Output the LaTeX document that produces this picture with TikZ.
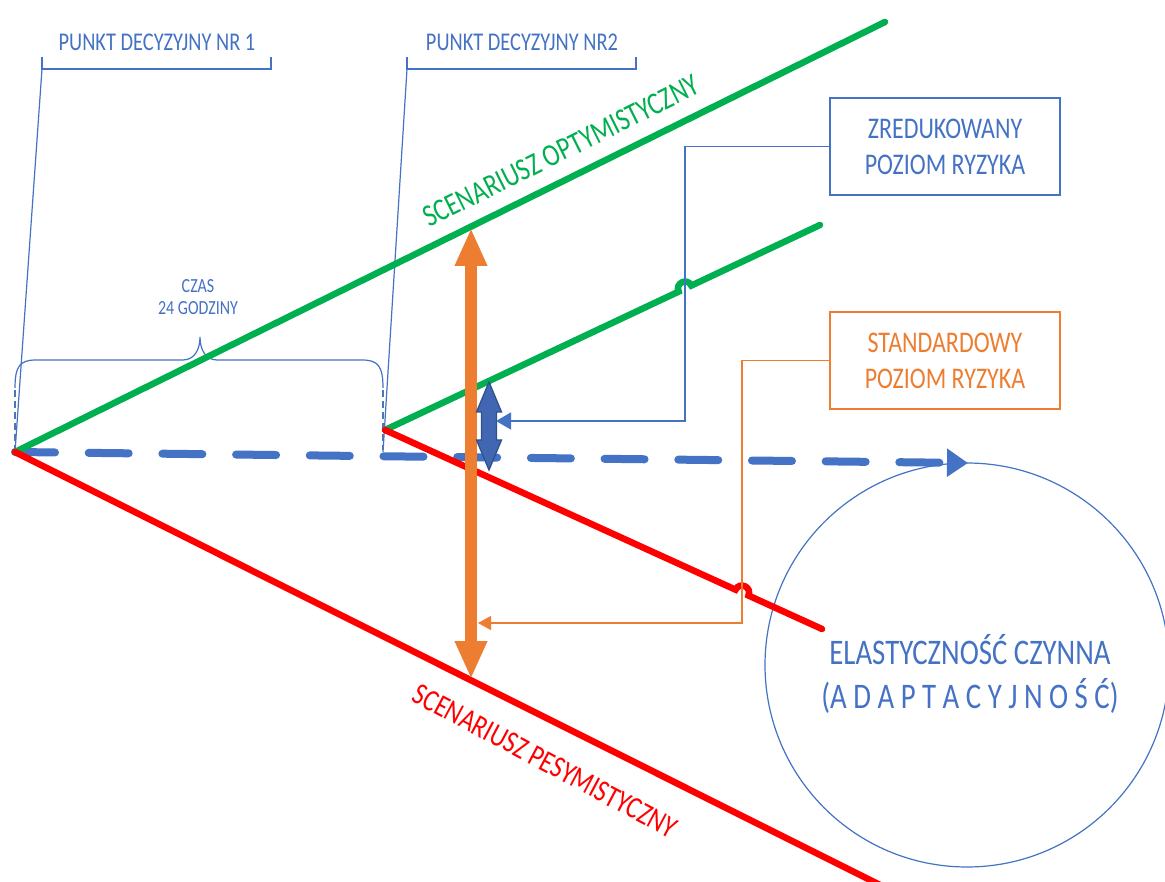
\documentclass[tikz,border=0pt]{standalone}
\usepackage{fontspec}
\setmainfont{Carlito}[FakeStretch=0.8]
\usetikzlibrary{arrows.meta}
\definecolor{gblue}{HTML}{4472C4}
\definecolor{gorange}{HTML}{ED7D31}
\definecolor{ggreen}{HTML}{00B050}
\definecolor{gred}{HTML}{FF0000}
\definecolor{blockblue}{HTML}{4267B2}
\definecolor{blockedge}{HTML}{2F528F}
\begin{document}
\begin{tikzpicture}[x=1pt,y=-1pt,
  thinblue/.style={draw=gblue, line width=1.2pt},
  scenline/.style={line width=6.5pt, line cap=round},
  txt/.style={inner sep=0pt, align=center},
  riskbox/.style={draw, line width=1.3pt, minimum width=230pt, minimum height=97pt,
    align=center, inner sep=0pt, font=\fontsize{30}{36}\selectfont},
  link/.style={line width=1.3pt}]
\fill[white] (0,0) rectangle (1165,882);
\clip (0,0) rectangle (1165,882);

% key points of the scenario fan
\coordinate (o1) at (15,452);
\coordinate (o2) at (385,430);
\coordinate (g1) at (885,22);
\coordinate (r1) at (890,890);
\coordinate (g2) at (820,225);
\coordinate (r2) at (822,629);
\coordinate (dtip) at (968,463);

% decision point brackets
\draw[thinblue] (42,57) -- (42,69) coordinate (b1) -- (271,69) -- (271,57);
\draw[thinblue] (407,57) -- (407,69) coordinate (b2) -- (636,69) -- (636,57);
\draw[thinblue] (b1) -- (o1);
\draw[thinblue] (b2) -- (383,452);
\node[txt, text=gblue, font=\fontsize{25.5}{30}\selectfont] (pd1) at (157,42) {PUNKT DECYZYJNY NR 1};
\node[txt, text=gblue, font=\fontsize{25.5}{30}\selectfont] (pd2) at (522,42) {PUNKT DECYZYJNY NR2};

% time brace
\draw[thinblue] (15,388) .. controls (15,366) and (20,360) .. (36,360) -- (183,360)
  .. controls (194,360) and (200,350) .. (200,337)
  .. controls (200,350) and (206,360) .. (217,360) -- (362,360)
  .. controls (378,360) and (383,366) .. (383,388);
\draw[gblue!80!gray, line width=1.3pt, dash pattern=on 7pt off 4pt] (15,390) -- (15,450);
\draw[gblue!80!gray, line width=1.3pt, dash pattern=on 7pt off 4pt] (383,390) -- (383,450);
\node[txt, text=gblue, font=\fontsize{20}{22}\selectfont] (czas) at (198,297) {CZAS\\24 GODZINY};

% adaptive flexibility circle
\node[circle, draw=gblue, line width=1.2pt, minimum size=404pt, inner sep=0pt] (flex) at (967,665) {};
\node[txt, text=gblue, font=\fontsize{36}{44}\selectfont] (flextxt) at (970,674)
  {ELASTYCZNOŚĆ CZYNNA\\(A D A P T A C Y J N O Ś Ć)};

% time axis
\draw[gblue, line width=8pt, line cap=round, dash pattern=on 40pt off 33.7pt,
  -{Triangle[length=21pt,width=27pt]}] (o1) -- (dtip);

% scenarios
\draw[scenline, ggreen] (o1) -- (g1);
\draw[scenline, gred] (o1) -- (r1);
\draw[scenline, ggreen] (o2) -- (678.7,291.6)
  .. controls (674.7,283.2) and (687.3,277.2) .. (691.3,285.6) -- (g2);
\draw[scenline, gred] (o2) -- (735.6,589.7)
  .. controls (739.5,581.2) and (752.2,587.0) .. (748.4,595.5) -- (r2);

\node[txt, text=ggreen, rotate=26.5, font=\fontsize{31.5}{36}\selectfont] (opt) at (561,151) {SCENARIUSZ OPTYMISTYCZNY};
\node[txt, text=gred, rotate=-28, font=\fontsize{31}{36}\selectfont] (pes) at (545,761) {SCENARIUSZ PESYMISTYCZNY};

% standard risk range
\coordinate (otop) at (471,228);
\coordinate (obot) at (471,679);
\draw[gorange, line width=12.5pt, {Triangle[length=38pt,width=30pt]}-{Triangle[length=38pt,width=30pt]}] (otop) -- (obot);

% reduced risk range
\filldraw[fill=blockblue, draw=blockedge, line width=1.3pt, line join=miter]
  (489,382) -- (501.5,412) -- (496.5,412) -- (496.5,440) -- (501.5,440) -- (489,470)
  -- (476.5,440) -- (481.5,440) -- (481.5,412) -- (476.5,412) -- cycle;
\coordinate (ztip) at (496,421);

% risk level boxes and their links
\node[riskbox, draw=gblue, text=gblue] (zred) at (945,146.5) {ZREDUKOWANY\\POZIOM RYZYKA};
\node[riskbox, draw=gorange, text=gorange] (std) at (945,360.5) {STANDARDOWY\\POZIOM RYZYKA};
\coordinate (zbend) at (685,421);
\coordinate (sbend) at (742,623);
\coordinate (stip) at (478,623);
\draw[link, gblue, -{Triangle[length=15pt,width=17pt]}] (zred.west) -| (zbend) -- (ztip);
\draw[link, gorange, -{Triangle[length=13pt,width=14pt]}] (std.west) -| (sbend) -- (stip);
\end{tikzpicture}
\end{document}
